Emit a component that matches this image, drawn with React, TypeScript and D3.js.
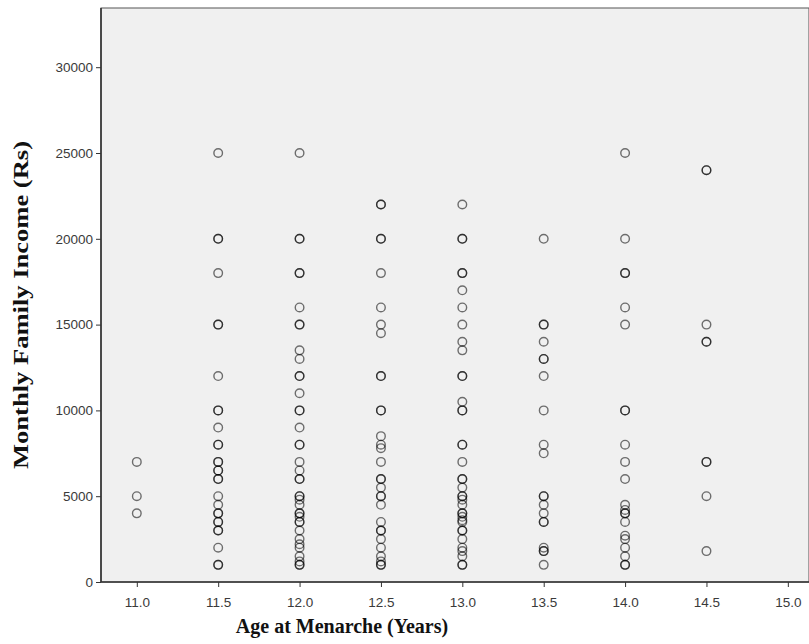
import React from "react";
import { select, scaleLinear, axisLeft, axisBottom, format, range } from "d3";

// monthly family income (Rs) per age at menarche
const ages = [11.0, 11.5, 12.0, 12.5, 13.0, 13.5, 14.0, 14.5];
const income11_0 = [7000, 5000, 4000];
const income11_5 = [25000, 20000, 20000, 18000, 15000, 15000, 12000, 10000, 10000, 9000, 8000, 8000, 7000, 7000, 6500, 6500, 6000, 6000, 5000, 4500, 4000, 4000, 3500, 3500, 3000, 3000, 2000, 1000, 1000];
const income12_0 = [25000, 20000, 20000, 18000, 18000, 16000, 15000, 15000, 13500, 13000, 12000, 12000, 11000, 10000, 10000, 9000, 8000, 8000, 7000, 6500, 6000, 6000, 5000, 5000, 4800, 4500, 4000, 4000, 3800, 3500, 3500, 3000, 2500, 2200, 2000, 1500, 1200, 1000, 1000];
const income12_5 = [22000, 22000, 20000, 20000, 18000, 16000, 15000, 14500, 12000, 12000, 10000, 10000, 8500, 8000, 7800, 7000, 6000, 6000, 5500, 5000, 5000, 4500, 3500, 3000, 3000, 2500, 2000, 1500, 1200, 1000, 1000];
const income13_0 = [22000, 20000, 20000, 18000, 18000, 17000, 16000, 15000, 14000, 13500, 12000, 12000, 10500, 10000, 10000, 8000, 8000, 7000, 6000, 6000, 5500, 5000, 5000, 4800, 4500, 4000, 4000, 3800, 3600, 3500, 3000, 3000, 2500, 2000, 1800, 1500, 1000, 1000];
const income13_5 = [20000, 15000, 15000, 14000, 13000, 13000, 12000, 10000, 8000, 7500, 5000, 5000, 4500, 4000, 3500, 3500, 2000, 1800, 1800, 1000];
const income14_0 = [25000, 20000, 18000, 18000, 16000, 15000, 10000, 10000, 8000, 7000, 6000, 4500, 4200, 4000, 4000, 3500, 2700, 2500, 2000, 1500, 1000, 1000];
const income14_5 = [24000, 24000, 15000, 14000, 14000, 7000, 7000, 5000, 1800];
const incomeByAge = [income11_0, income11_5, income12_0, income12_5, income13_0, income13_5, income14_0, income14_5];

const xTicks = range(11, 15.01, 0.5);
const yTicks = range(0, 30001, 5000);

const W = 809;
const H = 644;
const left = 101;
const right = 809;
const top = 8;
const bottom = 582;

export default function App() {
  const svgRef = React.useRef<SVGSVGElement>(null);

  const points = ages.flatMap((a, i) => incomeByAge[i].map(v => ({ age: a, income: v })));

  const x = scaleLinear().domain([10.78, 15.13]).range([left, right]);
  const y = scaleLinear().domain([0, 33450]).range([bottom, top]);

  React.useEffect(() => {
    const svg = select(svgRef.current);

    const yAxis = axisLeft(y).tickValues(yTicks).tickSize(5).tickPadding(3).tickFormat(format("d"));
    const gy = svg.select<SVGGElement>(".y-axis").attr("transform", `translate(${left},0)`).call(yAxis);
    gy.select(".domain").remove();
    gy.selectAll("line").attr("stroke", "#333");
    gy.selectAll("text").attr("font-family", "Liberation Sans, Arial, sans-serif").attr("font-size", 13.5).attr("fill", "#3a3a3a");

    const xAxis = axisBottom(x).tickValues(xTicks).tickSize(5).tickPadding(10).tickFormat(format(".1f"));
    const gx = svg.select<SVGGElement>(".x-axis").attr("transform", `translate(0,${bottom})`).call(xAxis);
    gx.select(".domain").remove();
    gx.selectAll("line").attr("stroke", "#333");
    gx.selectAll("text").attr("font-family", "Liberation Sans, Arial, sans-serif").attr("font-size", 13.5).attr("fill", "#3a3a3a");

    svg
      .select(".points")
      .selectAll("circle")
      .data(points)
      .join("circle")
      .attr("cx", d => x(d.age))
      .attr("cy", d => y(d.income))
      .attr("r", 4.3)
      .attr("fill", "none")
      .attr("stroke", "#000")
      .attr("stroke-opacity", 0.55)
      .attr("stroke-width", 1.4);
  }, []);

  return (
    <svg ref={svgRef} width={W} height={H} style={{ position: "absolute", left: 0, top: 0, background: "#fff" }}>
      <rect x={left} y={top} width={right - left} height={bottom - top} fill="#f0f0f0" stroke="#555" strokeWidth={1} />
      <line x1={left} x2={left} y1={top} y2={bottom} stroke="#333" strokeWidth={1.6} />
      <line x1={left} x2={right} y1={bottom} y2={bottom} stroke="#333" strokeWidth={1.6} />
      <g className="points" />
      <g className="y-axis" />
      <g className="x-axis" />
      <text
        x={342}
        y={633}
        textAnchor="middle"
        fontFamily="Liberation Serif, Times New Roman, serif"
        fontWeight="bold"
        fontSize={20}
        fill="#111"
      >
        Age at Menarche (Years)
      </text>
      <text
        transform="translate(28,305) rotate(-90)"
        textAnchor="middle"
        fontFamily="Liberation Serif, Times New Roman, serif"
        fontWeight="bold"
        fontSize={20}
        fill="#111"
        textLength={328}
        lengthAdjust="spacingAndGlyphs"
      >
        Monthly Family Income (Rs)
      </text>
    </svg>
  );
}
